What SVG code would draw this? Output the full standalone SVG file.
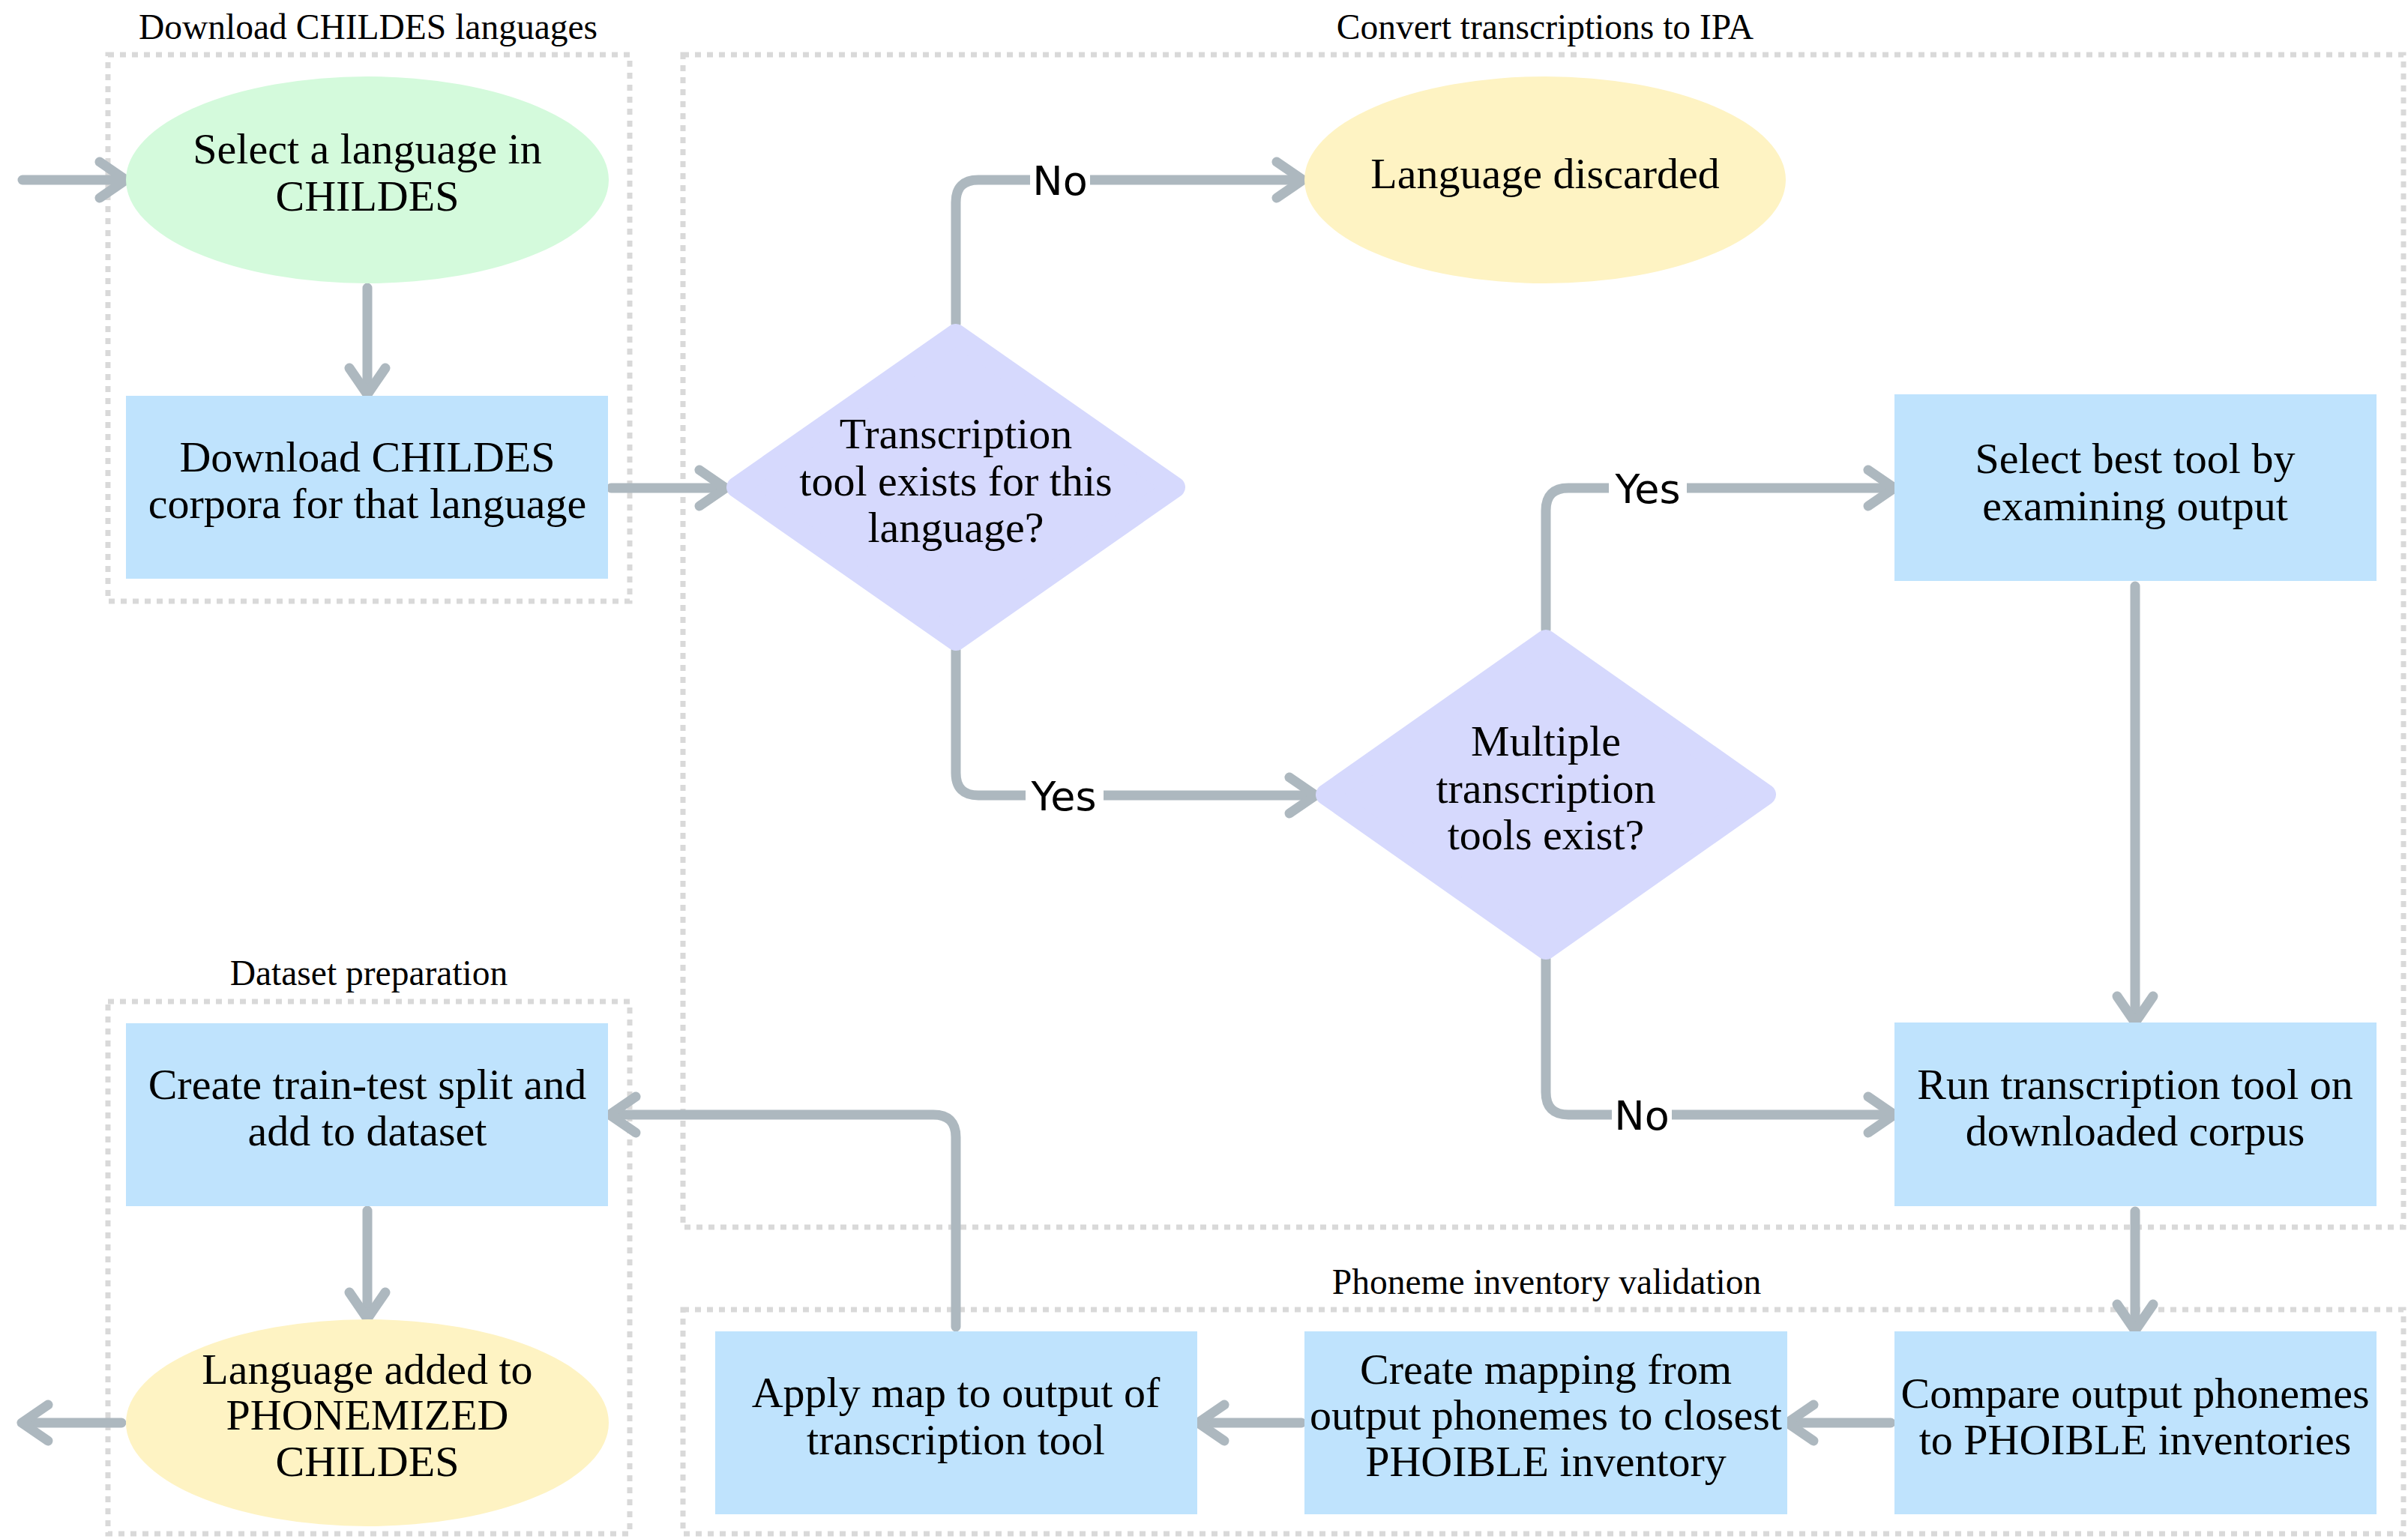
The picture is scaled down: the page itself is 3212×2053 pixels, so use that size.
<svg xmlns="http://www.w3.org/2000/svg" width="3212" height="2053" viewBox="0 0 3212 2053">
<defs>
<style>
.grp{fill:none;stroke:#d9d9d9;stroke-width:7;stroke-dasharray:8 8}
.gt{font-family:"Liberation Serif","Times New Roman",serif;font-size:47.5px;fill:#000;text-anchor:middle}
.nt{font-family:"Liberation Serif","Times New Roman",serif;font-size:58px;fill:#000;text-anchor:middle}
.lt{font-family:"DejaVu Sans","Liberation Sans",sans-serif;font-size:54px;fill:#000;text-anchor:middle}
.edge{fill:none;stroke:#adb8bf;stroke-width:13;stroke-linecap:round;stroke-linejoin:round;marker-end:url(#arr)}
.lbg{fill:#fff}
.start{fill:#d4fadc}
.end{fill:#fef3c3}
.proc{fill:#bfe3fd}
.dec{fill:#d6d9fd;stroke:#d6d9fd;stroke-width:28;stroke-linejoin:round}
</style>
<marker id="arr" markerUnits="userSpaceOnUse" viewBox="-50 -40 60 80" refX="-7" refY="0" markerWidth="60" markerHeight="80" orient="auto" overflow="visible">
<path d="M-35,-24 L0,0 L-35,24" fill="none" stroke="#adb8bf" stroke-width="13" stroke-linecap="round" stroke-linejoin="round"/>
</marker>
</defs>
<rect width="3212" height="2053" fill="#fff"/>
<g id="groups">
<g id="g-download">
<rect class="grp" x="144" y="73" width="696" height="729"/>
<text class="gt" x="491" y="52">Download CHILDES languages</text>
</g>
<g id="g-convert">
<rect class="grp" x="911" y="73" width="2295" height="1564"/>
<text class="gt" x="2061" y="52">Convert transcriptions to IPA</text>
</g>
<g id="g-dataset">
<rect class="grp" x="144" y="1336" width="696" height="710"/>
<text class="gt" x="492" y="1314">Dataset preparation</text>
</g>
<g id="g-phoneme">
<rect class="grp" x="911" y="1747" width="2295" height="299"/>
<text class="gt" x="2063" y="1726">Phoneme inventory validation</text>
</g>
</g>
<g id="connectors">
<path class="edge" d="M30,240 H161"/>
<path class="edge" d="M490,384 V519"/>
<path class="edge" d="M815,651 H961"/>
<path class="edge" d="M1275,432 V270 Q1275,240 1305,240 H1731"/>
<path class="edge" d="M1275,868 V1031 Q1275,1061 1305,1061 H1748"/>
<path class="edge" d="M2062,840 V681 Q2062,651 2092,651 H2520"/>
<path class="edge" d="M2848,782 V1357"/>
<path class="edge" d="M2062,1280 V1457 Q2062,1487 2092,1487 H2520"/>
<path class="edge" d="M2848,1616 V1768"/>
<path class="edge" d="M2522,1898 H2391"/>
<path class="edge" d="M1736,1898 H1605"/>
<path class="edge" d="M1275,1770 V1517 Q1275,1487 1245,1487 H820"/>
<path class="edge" d="M490,1615 V1752"/>
<path class="edge" d="M162,1898 H36"/>
<g id="edge-labels">
<rect class="lbg" x="1374" y="212" width="80" height="56"/>
<text class="lt" x="1414" y="260">No</text>
<rect class="lbg" x="1368" y="1033" width="104" height="56"/>
<text class="lt" x="1419" y="1081">Yes</text>
<rect class="lbg" x="2146" y="623" width="104" height="56"/>
<text class="lt" x="2198" y="671">Yes</text>
<rect class="lbg" x="2150" y="1459" width="80" height="56"/>
<text class="lt" x="2190" y="1507">No</text>
</g>
</g>
<g id="n-select">
<ellipse class="start" cx="490" cy="240" rx="322" ry="138"/>
<text class="nt" x="490" y="218">Select a language in</text>
<text class="nt" x="490" y="281">CHILDES</text>
</g>
<g id="n-download">
<rect class="proc" x="168" y="528" width="643" height="244"/>
<text class="nt" x="490" y="629">Download CHILDES</text>
<text class="nt" x="490" y="691">corpora for that language</text>
</g>
<g id="n-exists">
<polygon class="dec" points="983,650 1275,446 1567,650 1275,854"/>
<text class="nt" x="1275" y="598">Transcription</text>
<text class="nt" x="1275" y="661">tool exists for this</text>
<text class="nt" x="1275" y="723">language?</text>
</g>
<g id="n-discarded">
<ellipse class="end" cx="2061" cy="240" rx="321" ry="138"/>
<text class="nt" x="2061" y="251">Language discarded</text>
</g>
<g id="n-multiple">
<polygon class="dec" points="1769,1060 2062,854 2355,1060 2062,1266"/>
<text class="nt" x="2062" y="1008">Multiple</text>
<text class="nt" x="2062" y="1071">transcription</text>
<text class="nt" x="2062" y="1133">tools exist?</text>
</g>
<g id="n-best">
<rect class="proc" x="2527" y="526" width="643" height="249"/>
<text class="nt" x="2848" y="631">Select best tool by</text>
<text class="nt" x="2848" y="694">examining output</text>
</g>
<g id="n-run">
<rect class="proc" x="2527" y="1364" width="643" height="245"/>
<text class="nt" x="2848" y="1466">Run transcription tool on</text>
<text class="nt" x="2848" y="1528">downloaded corpus</text>
</g>
<g id="n-compare">
<rect class="proc" x="2527" y="1776" width="643" height="244"/>
<text class="nt" x="2848" y="1878">Compare output phonemes</text>
<text class="nt" x="2848" y="1940">to PHOIBLE inventories</text>
</g>
<g id="n-mapping">
<rect class="proc" x="1740" y="1776" width="644" height="244"/>
<text class="nt" x="2062" y="1846">Create mapping from</text>
<text class="nt" x="2062" y="1907">output phonemes to closest</text>
<text class="nt" x="2062" y="1969">PHOIBLE inventory</text>
</g>
<g id="n-apply">
<rect class="proc" x="954" y="1776" width="643" height="244"/>
<text class="nt" x="1275" y="1877">Apply map to output of</text>
<text class="nt" x="1275" y="1940">transcription tool</text>
</g>
<g id="n-split">
<rect class="proc" x="168" y="1365" width="643" height="244"/>
<text class="nt" x="490" y="1466">Create train-test split and</text>
<text class="nt" x="490" y="1528">add to dataset</text>
</g>
<g id="n-added">
<ellipse class="end" cx="490" cy="1898" rx="322" ry="138"/>
<text class="nt" x="490" y="1846">Language added to</text>
<text class="nt" x="490" y="1907">PHONEMIZED</text>
<text class="nt" x="490" y="1969">CHILDES</text>
</g>
</svg>
